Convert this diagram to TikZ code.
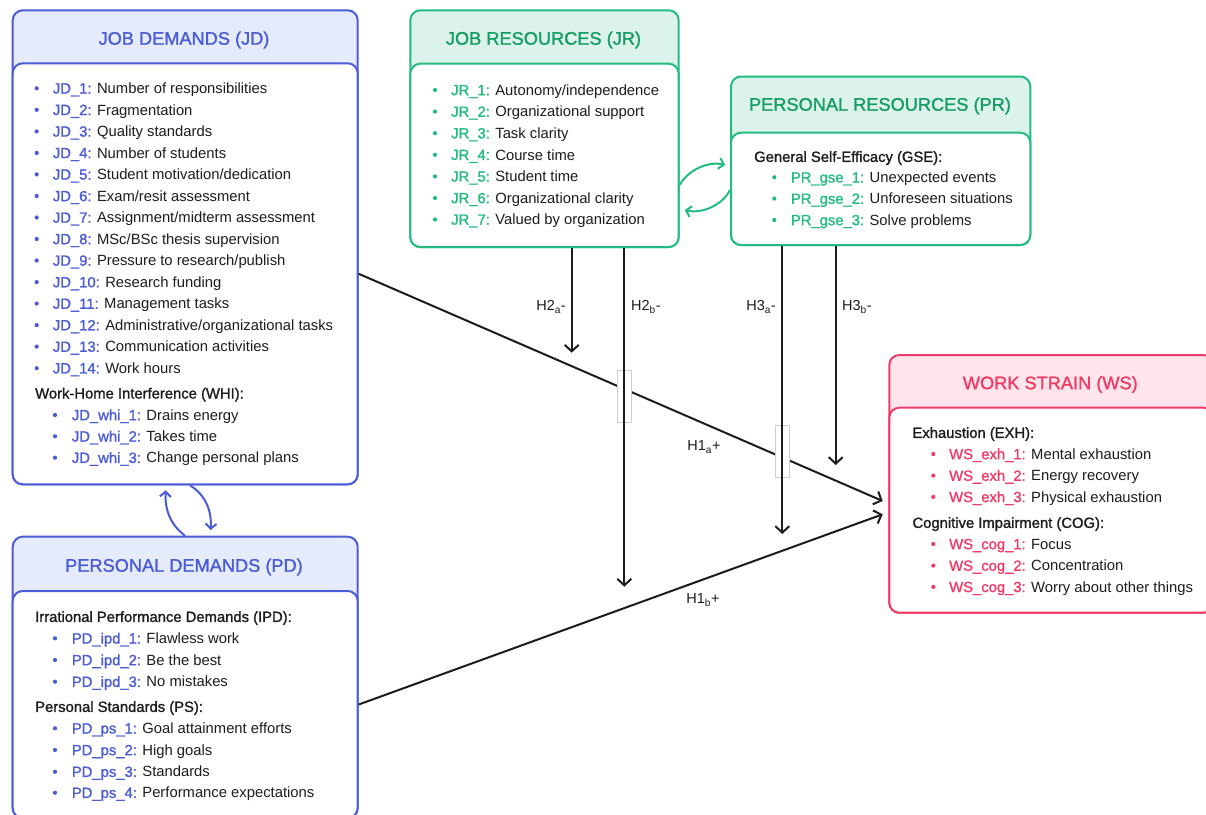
\documentclass[tikz,border=0pt]{standalone}
\usepackage{fontspec}
\setmainfont{Liberation Sans}
\newfontfamily\medfont[FakeBold=1.3]{Liberation Sans}
\usetikzlibrary{arrows.meta,calc}

\definecolor{ink}{HTML}{1C1C1C}
\definecolor{jdblue}{HTML}{4A5CD6}
\definecolor{jdfill}{HTML}{E6EBFC}
\definecolor{jrgreen}{HTML}{22BB80}
\definecolor{jrtitle}{HTML}{169C65}
\definecolor{jrfill}{HTML}{DCF3EB}
\definecolor{wspink}{HTML}{F03A67}
\definecolor{wsfill}{HTML}{FDE5EB}
\definecolor{jumpgrey}{HTML}{CFCFCF}

% one bulleted entry: name, colour, bullet x, label x, y, label, text
\newcommand\entry[7]{%
  \fill[#2] (#3,#5) circle (2.1);
  \node[itm] (#1) at (#4,#5+5.2) {{\medfont\color{#2}#6:} #7};
}

\begin{document}
\begin{tikzpicture}[x=1pt,y=-1pt,
  panel/.style={rounded corners=10pt, line width=2pt, inner sep=0pt, anchor=north west},
  ptitle/.style={font=\medfont\fontsize{18.2}{22}\selectfont, inner sep=0pt},
  itm/.style={font=\fontsize{14.8}{18}\selectfont, inner sep=0pt, anchor=base west, text=ink},
  hd/.style={font=\medfont\fontsize{14.8}{18}\selectfont, inner sep=0pt, anchor=base west, text=ink},
  hlabel/.style={font=\fontsize{14.5}{17}\selectfont, inner sep=0pt, text=ink},
  link/.style={line width=2pt, draw=ink, -{Straight Barb[length=6.5pt,width=14pt]}},
  loop/.style={line width=2pt, -{Straight Barb[length=5pt,width=11pt]}},
  jump/.style={draw=jumpgrey, fill=white, line width=0.8pt, minimum width=14pt, minimum height=52pt, inner sep=0pt}]

\useasboundingbox (0,0) rectangle (1206,814);
\clip (0,0) rectangle (1206,814);

% ---------- Job demands ----------
\node[panel, draw=jdblue, fill=jdfill, minimum width=345pt, minimum height=474pt] (JD) at (11.7,9.3) {};
\node[panel, draw=jdblue, fill=white, minimum width=345pt, minimum height=421pt] (JDb) at (11.7,62.3) {};
\node[ptitle, text=jdblue] (JDt) at (184,40) {JOB DEMANDS (JD)};
\entry{jd1}{jdblue}{36.7}{52.7}{88.3}{JD\_1}{Number of responsibilities}
\entry{jd2}{jdblue}{36.7}{52.7}{109.8}{JD\_2}{Fragmentation}
\entry{jd3}{jdblue}{36.7}{52.7}{131.4}{JD\_3}{Quality standards}
\entry{jd4}{jdblue}{36.7}{52.7}{152.9}{JD\_4}{Number of students}
\entry{jd5}{jdblue}{36.7}{52.7}{174.4}{JD\_5}{Student motivation/dedication}
\entry{jd6}{jdblue}{36.7}{52.7}{196.0}{JD\_6}{Exam/resit assessment}
\entry{jd7}{jdblue}{36.7}{52.7}{217.5}{JD\_7}{Assignment/midterm assessment}
\entry{jd8}{jdblue}{36.7}{52.7}{239.0}{JD\_8}{MSc/BSc thesis supervision}
\entry{jd9}{jdblue}{36.7}{52.7}{260.5}{JD\_9}{Pressure to research/publish}
\entry{jd10}{jdblue}{36.7}{52.7}{282.1}{JD\_10}{Research funding}
\entry{jd11}{jdblue}{36.7}{52.7}{303.6}{JD\_11}{Management tasks}
\entry{jd12}{jdblue}{36.7}{52.7}{325.1}{JD\_12}{Administrative/organizational tasks}
\entry{jd13}{jdblue}{36.7}{52.7}{346.6}{JD\_13}{Communication activities}
\entry{jd14}{jdblue}{36.7}{52.7}{368.2}{JD\_14}{Work hours}
\node[hd] (jdwhi) at (35,398.5) {Work-Home Interference (WHI):};
\entry{jdw1}{jdblue}{55}{71.7}{415.0}{JD\_whi\_1}{Drains energy}
\entry{jdw2}{jdblue}{55}{71.7}{436.3}{JD\_whi\_2}{Takes time}
\entry{jdw3}{jdblue}{55}{71.7}{457.7}{JD\_whi\_3}{Change personal plans}

% ---------- Personal demands ----------
\node[panel, draw=jdblue, fill=jdfill, minimum width=345pt, minimum height=281pt] (PD) at (11.7,535.7) {};
\node[panel, draw=jdblue, fill=white, minimum width=345pt, minimum height=227pt] (PDb) at (11.7,590) {};
\node[ptitle, text=jdblue] (PDt) at (184,567) {PERSONAL DEMANDS (PD)};
\node[hd] (pdipd) at (35,621.9) {Irrational Performance Demands (IPD):};
\entry{pdi1}{jdblue}{55}{71.7}{638.3}{PD\_ipd\_1}{Flawless work}
\entry{pdi2}{jdblue}{55}{71.7}{660.0}{PD\_ipd\_2}{Be the best}
\entry{pdi3}{jdblue}{55}{71.7}{681.7}{PD\_ipd\_3}{No mistakes}
\node[hd] (pdps) at (35,711.9) {Personal Standards (PS):};
\entry{pdp1}{jdblue}{55}{71.7}{728.3}{PD\_ps\_1}{Goal attainment efforts}
\entry{pdp2}{jdblue}{55}{71.7}{750.0}{PD\_ps\_2}{High goals}
\entry{pdp3}{jdblue}{55}{71.7}{771.7}{PD\_ps\_3}{Standards}
\entry{pdp4}{jdblue}{55}{71.7}{792.7}{PD\_ps\_4}{Performance expectations}

% ---------- Job resources ----------
\node[panel, draw=jrgreen, fill=jrfill, minimum width=268.4pt, minimum height=236.7pt] (JR) at (409.3,9.3) {};
\node[panel, draw=jrgreen, fill=white, minimum width=268.4pt, minimum height=183.3pt] (JRb) at (409.3,62.7) {};
\node[ptitle, text=jrtitle] (JRt) at (543.5,40) {JOB RESOURCES (JR)};
\entry{jr1}{jrgreen}{435}{451}{90.0}{JR\_1}{Autonomy/independence}
\entry{jr2}{jrgreen}{435}{451}{111.6}{JR\_2}{Organizational support}
\entry{jr3}{jrgreen}{435}{451}{133.2}{JR\_3}{Task clarity}
\entry{jr4}{jrgreen}{435}{451}{154.8}{JR\_4}{Course time}
\entry{jr5}{jrgreen}{435}{451}{176.4}{JR\_5}{Student time}
\entry{jr6}{jrgreen}{435}{451}{198.0}{JR\_6}{Organizational clarity}
\entry{jr7}{jrgreen}{435}{451}{219.5}{JR\_7}{Valued by organization}

% ---------- Personal resources ----------
\node[panel, draw=jrgreen, fill=jrfill, minimum width=299.3pt, minimum height=168.5pt] (PR) at (730,75.5) {};
\node[panel, draw=jrgreen, fill=white, minimum width=299.3pt, minimum height=112.3pt] (PRb) at (730,131.7) {};
\node[ptitle, text=jrtitle] (PRt) at (880,106) {PERSONAL RESOURCES (PR)};
\node[hd] (prgse) at (754,161.9) {General Self-Efficacy (GSE):};
\entry{pr1}{jrgreen}{774.3}{790.7}{177.3}{PR\_gse\_1}{Unexpected events}
\entry{pr2}{jrgreen}{774.3}{790.7}{198.6}{PR\_gse\_2}{Unforeseen situations}
\entry{pr3}{jrgreen}{774.3}{790.7}{220.0}{PR\_gse\_3}{Solve problems}

% ---------- Work strain ----------
\node[panel, draw=wspink, fill=wsfill, minimum width=324pt, minimum height=257.7pt] (WS) at (888.3,354) {};
\node[panel, draw=wspink, fill=white, minimum width=324pt, minimum height=205pt] (WSb) at (888.3,406.7) {};
\node[ptitle, text=wspink] (WSt) at (1050.3,384.5) {WORK STRAIN (WS)};
\node[hd] (wsexh) at (912.3,437.9) {Exhaustion (EXH):};
\entry{wse1}{wspink}{933.3}{949}{454.0}{WS\_exh\_1}{Mental exhaustion}
\entry{wse2}{wspink}{933.3}{949}{475.6}{WS\_exh\_2}{Energy recovery}
\entry{wse3}{wspink}{933.3}{949}{496.9}{WS\_exh\_3}{Physical exhaustion}
\node[hd] (wscog) at (912.3,527.9) {Cognitive Impairment (COG):};
\entry{wsc1}{wspink}{933.3}{949}{544.0}{WS\_cog\_1}{Focus}
\entry{wsc2}{wspink}{933.3}{949}{565.6}{WS\_cog\_2}{Concentration}
\entry{wsc3}{wspink}{933.3}{949}{586.9}{WS\_cog\_3}{Worry about other things}

% ---------- mutual links between paired constructs ----------
\coordinate (jrpr-a) at ($(JR.north east)+(0,175.7)$);
\coordinate (jrpr-b) at ($(PR.north west)+(-4.8,89.5)$);
\draw[loop, jrgreen] (jrpr-a) .. controls +(9,-16) and +(-16,-4) .. (jrpr-b);
\coordinate (prjr-a) at ($(PR.north west)+(0,114.5)$);
\coordinate (prjr-b) at ($(JR.north east)+(5,200.7)$);
\draw[loop, jrgreen] (prjr-a) .. controls +(-8,16) and +(16,4) .. (prjr-b);

\coordinate (pdjd-a) at ($(PD.north west)+(173.3,0)$);
\coordinate (pdjd-b) at ($(JD.south west)+(154,5)$);
\draw[loop, jdblue] (pdjd-a) .. controls +(-16,-12) and +(-1,17) .. (pdjd-b);
\coordinate (jdpd-a) at ($(JD.south west)+(178.3,0)$);
\coordinate (jdpd-b) at ($(PD.north west)+(199,-5.7)$);
\draw[loop, jdblue] (jdpd-a) .. controls +(16,10) and +(1,-19) .. (jdpd-b);

% ---------- hypothesised paths ----------
\coordinate (h1a-end) at ($(WSb.west)+(-5.6,-9.2)$);
\coordinate (h1b-end) at ($(WSb.west)+(-5.6,4.1)$);
\draw[link] (JDb.east) -- (h1a-end);
\draw[link] (PDb.east) -- (h1b-end);

% breaks where the moderating paths cross the main path
\node[jump] (cross1) at (624.3,396.8) {};
\node[jump] (cross2) at (782.3,451.3) {};

\coordinate (h2a-end) at (571.7,352.7);
\coordinate (h2b-end) at (624.3,586.7);
\coordinate (h3a-end) at (782.3,534);
\coordinate (h3b-end) at (835.7,465);
\draw[link] (JR.south west -| h2a-end) -- (h2a-end);
\draw[link] (JR.south west -| h2b-end) -- (h2b-end);
\draw[link] (PR.south west -| h3a-end) -- (h3a-end);
\draw[link] (PR.south west -| h3b-end) -- (h3b-end);

\node[hlabel, anchor=east] (lh2a) at (566,307) {H2\textsubscript{a}-};
\node[hlabel, anchor=west] (lh2b) at (631,307) {H2\textsubscript{b}-};
\node[hlabel, anchor=east] (lh3a) at (776,307) {H3\textsubscript{a}-};
\node[hlabel, anchor=west] (lh3b) at (842,307) {H3\textsubscript{b}-};
\node[hlabel] (lh1a) at (704,447) {H1\textsubscript{a}+};
\node[hlabel] (lh1b) at (703,600) {H1\textsubscript{b}+};
\end{tikzpicture}
\end{document}
